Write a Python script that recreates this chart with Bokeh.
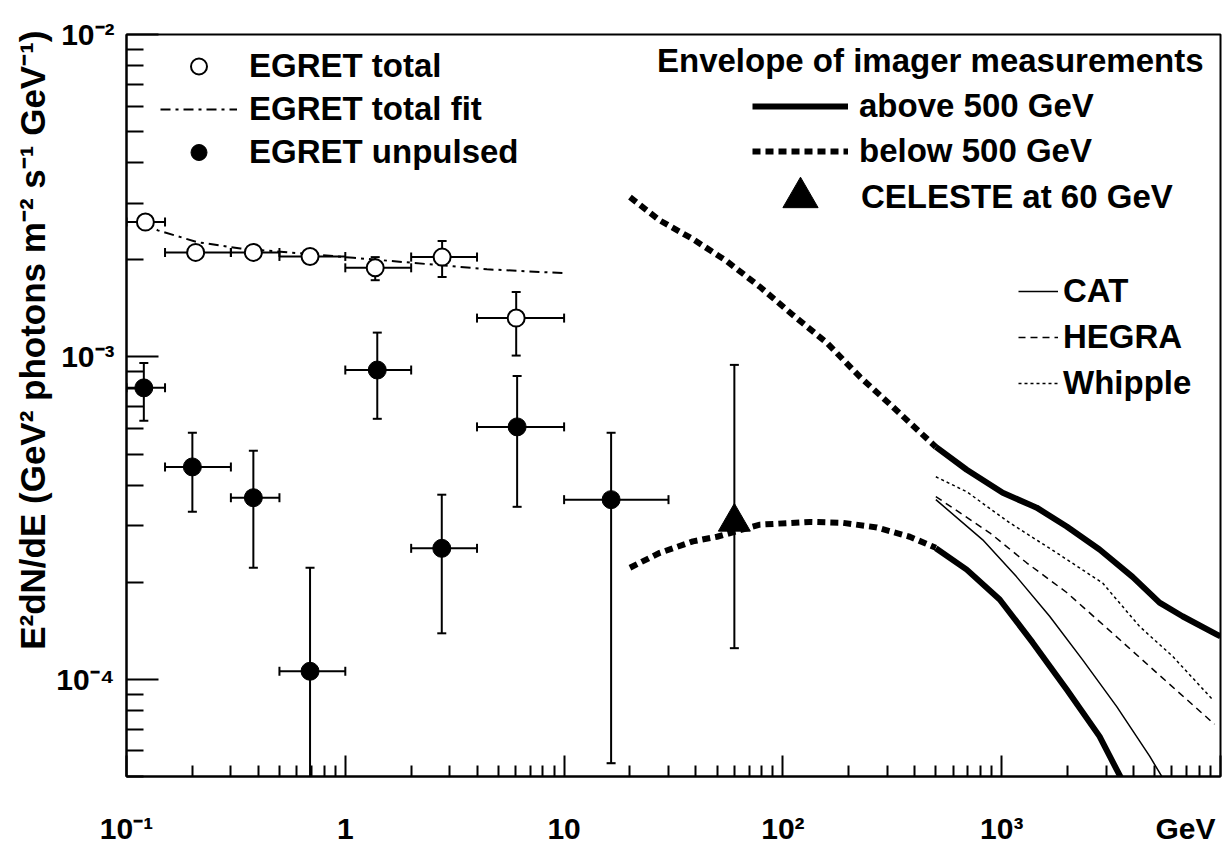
import math
from bokeh.plotting import figure
from bokeh.models import (Range1d, FixedTicker, CustomJSTickFormatter, Label,
                          Legend, LegendItem, LogAxis, Title)
from bokeh.embed import file_html
from bokeh.resources import INLINE

FONT = "Liberation Sans"

# ---------------- data ----------------
# EGRET total (open circles)
tot_e = [0.122, 0.207, 0.380, 0.69, 1.37, 2.77, 6.04]
tot_elo = [0.10, 0.15, 0.30, 0.50, 1.0, 2.0, 4.0]
tot_ehi = [0.15, 0.30, 0.50, 1.0, 2.0, 4.0, 10.0]
tot_f = [2.62e-3, 2.11e-3, 2.11e-3, 2.05e-3, 1.89e-3, 2.04e-3, 1.32e-3]
tot_flo = [2.52e-3, 2.03e-3, 2.03e-3, 1.97e-3, 1.73e-3, 1.77e-3, 1.01e-3]
tot_fhi = [2.72e-3, 2.19e-3, 2.19e-3, 2.13e-3, 2.04e-3, 2.29e-3, 1.59e-3]

# EGRET total fit
fit_e = [0.12, 0.139, 0.211, 0.332, 0.603, 1.09, 1.84, 3.11, 4.44, 10.0]
fit_f = [2.62e-3, 2.47e-3, 2.27e-3, 2.17e-3, 2.10e-3, 2.03e-3, 1.97e-3,
         1.91e-3, 1.87e-3, 1.82e-3]

# EGRET unpulsed (filled circles)
unp_e = [0.12, 0.20, 0.38, 0.69, 1.40, 2.76, 6.10, 16.4]
unp_elo = [0.10, 0.15, 0.30, 0.50, 1.0, 2.0, 4.0, 10.0]
unp_ehi = [0.15, 0.30, 0.50, 1.0, 2.0, 4.0, 10.0, 30.0]
unp_f = [8.02e-4, 4.56e-4, 3.66e-4, 1.06e-4, 9.11e-4, 2.55e-4, 6.07e-4, 3.61e-4]
unp_flo = [6.34e-4, 3.31e-4, 2.22e-4, 1.0e-5, 6.43e-4, 1.39e-4, 3.43e-4, 5.5e-5]
unp_fhi = [9.58e-4, 5.82e-4, 5.12e-4, 2.22e-4, 1.19e-3, 3.74e-4, 8.73e-4, 5.82e-4]

# CELESTE at 60 GeV
cel_e = [60.0]
cel_f = [3.08e-4]
cel_flo = [1.25e-4]
cel_fhi = [9.45e-4]

# Envelope of imager measurements, below 500 GeV (dotted)
below_e = [20, 27.4, 38.8, 55.5, 78.5, 111, 159, 225, 318, 500]
below_upper_f = [3.13e-3, 2.65e-3, 2.32e-3, 1.98e-3, 1.65e-3, 1.35e-3,
                 1.105e-3, 8.67e-4, 7.0e-4, 5.26e-4]
below_lo_e = [20, 27.4, 38.8, 50, 78.5, 133, 188, 269, 380, 500]
below_lower_f = [2.22e-4, 2.47e-4, 2.68e-4, 2.77e-4, 3.02e-4, 3.08e-4,
                 3.06e-4, 2.96e-4, 2.77e-4, 2.56e-4]

# Envelope above 500 GeV (solid)
above_up_e = [500, 692, 1011, 1445, 1982, 2800, 3963, 5265, 6700, 9590, 10000]
above_upper_f = [5.26e-4, 4.47e-4, 3.79e-4, 3.41e-4, 2.98e-4, 2.53e-4,
                 2.08e-4, 1.73e-4, 1.57e-4, 1.38e-4, 1.36e-4]
above_lo_e = [500, 692, 979, 1386, 1982, 2800, 3350, 3840]
above_lower_f = [2.55e-4, 2.19e-4, 1.77e-4, 1.30e-4, 9.31e-5, 6.66e-5,
                 5.26e-5, 4.41e-5]

# Individual experiments
cat_e = [500, 819, 1170, 1656, 2344, 3350, 4744, 6165]
cat_f = [3.61e-4, 2.71e-4, 2.08e-4, 1.57e-4, 1.15e-4, 8.25e-5, 5.78e-5, 4.3e-5]
hegra_e = [500, 881, 1300, 1982, 3459, 5100, 9390]
hegra_f = [3.69e-4, 2.85e-4, 2.30e-4, 1.86e-4, 1.33e-4, 1.05e-4, 7.26e-5]
whip_e = [500, 692, 1088, 1783, 2893, 4266, 6039, 9190]
whip_f = [4.25e-4, 3.82e-4, 3.06e-4, 2.47e-4, 1.99e-4, 1.46e-4, 1.18e-4, 8.67e-5]

# Axis ticks / labels
x_major = [0.1, 1, 10, 100, 1000, 10000]
x_minor = [k * 10.0 ** e for e in range(-1, 4) for k in range(2, 10)]
y_major = [1e-4, 1e-3, 1e-2]
y_minor = [k * 10.0 ** e for e in range(-5, -2) for k in range(2, 10)]
x_lab_vals = [0.1, 1, 10, 100, 1000, 6920]
x_lab_text = ["10\u207b\u00b9", "1", "10", "10\u00b2", "10\u00b3", "GeV"]
y_lab_vals = [1e-2, 1e-3, 1e-4]
y_lab_text = ["10\u207b\u00b2", "10\u207b\u00b3", "10\u207b\u2074"]
y_title = "E\u00b2dN/dE (GeV\u00b2 photons m\u207b\u00b2 s\u207b\u00b9 GeV\u207b\u00b9)"

# ---------------- figure ----------------
p = figure(width=1223, height=851, x_axis_type="log", y_axis_type="log",
           x_range=Range1d(0.1, 1e4), y_range=Range1d(5e-5, 1e-2),
           output_backend="svg", toolbar_location=None,
           min_border_left=126, min_border_right=3, min_border_top=34,
           min_border_bottom=75)
p.background_fill_color = "white"
p.border_fill_color = "white"
p.outline_line_color = "black"
p.outline_line_width = 2
p.xgrid.visible = False
p.ygrid.visible = False

LABEL_JS = """
for (let i = 0; i < vals.length; i++) {
  if (Math.abs(Math.log10(tick) - Math.log10(vals[i])) < 1e-6) return labs[i];
}
return '';
"""

p.xaxis.ticker = FixedTicker(ticks=x_major, minor_ticks=x_minor)
p.yaxis.ticker = FixedTicker(ticks=y_major, minor_ticks=y_minor)
for ax in (p.xaxis[0], p.yaxis[0]):
    ax.axis_line_width = 2
    ax.axis_line_color = "black"
    ax.major_tick_line_width = 2
    ax.minor_tick_line_width = 2
    ax.major_tick_line_color = "black"
    ax.minor_tick_line_color = "black"
    ax.major_tick_out = 0
    ax.minor_tick_out = 0
    ax.major_label_text_font = FONT
    ax.major_label_text_font_style = "bold"
    ax.major_label_text_font_size = "30px"
    ax.major_label_text_color = "black"
p.xaxis.major_tick_in = 21
p.xaxis.minor_tick_in = 11
p.yaxis.major_tick_in = 32
p.yaxis.minor_tick_in = 17

# main x axis: ticks only
p.xaxis.formatter = CustomJSTickFormatter(code="return ''")
p.xaxis.major_label_text_font_size = "0px"
p.xaxis.major_label_standoff = 0

# y axis labels
p.yaxis.formatter = CustomJSTickFormatter(args=dict(vals=y_lab_vals, labs=y_lab_text),
                                          code=LABEL_JS)
p.yaxis.major_label_standoff = 12

# second x axis carrying the tick labels and the unit
xlab_axis = LogAxis(ticker=FixedTicker(ticks=x_lab_vals, minor_ticks=[]),
                    formatter=CustomJSTickFormatter(args=dict(vals=x_lab_vals, labs=x_lab_text),
                                                    code=LABEL_JS),
                    axis_line_color=None, major_tick_line_color=None,
                    minor_tick_line_color=None, major_tick_in=0, major_tick_out=0,
                    minor_tick_in=0, minor_tick_out=0,
                    major_label_standoff=35, major_label_text_font=FONT,
                    major_label_text_font_style="bold",
                    major_label_text_font_size="30px",
                    major_label_text_color="black")
p.add_layout(xlab_axis, "below")

# y title
p.add_layout(Title(text=y_title, align="right", offset=-4, standoff=4,
                   text_font=FONT, text_font_style="bold",
                   text_font_size="35px", text_color="black"), "left")

K = "black"

# error bars (bars + caps)
def errbars(e, elo, ehi, f, flo, fhi):
    if elo is not None:
        p.segment(x0=elo, y0=f, x1=ehi, y1=f, line_width=2, color=K)
        p.scatter(x=list(elo) + list(ehi), y=list(f) + list(f), marker="dash",
                  angle=math.pi / 2, size=9, line_width=2, color=K)
    p.segment(x0=e, y0=flo, x1=e, y1=fhi, line_width=2, color=K)
    p.scatter(x=list(e) + list(e), y=list(flo) + list(fhi), marker="dash",
              size=9, line_width=2, color=K)

errbars(tot_e, tot_elo, tot_ehi, tot_f, tot_flo, tot_fhi)
errbars(unp_e, unp_elo, unp_ehi, unp_f, unp_flo, unp_fhi)
errbars(cel_e, None, None, cel_f, cel_flo, cel_fhi)

# curves
fit_r = p.line(fit_e, fit_f, line_width=2, line_dash="10 5 3 5", color=K)
dot_up = p.line(below_e, below_upper_f, line_width=6, line_dash="8 5", color=K)
dot_lo = p.line(below_lo_e, below_lower_f, line_width=6, line_dash="8 5", color=K)
sol_up = p.line(above_up_e, above_upper_f, line_width=6, color=K, line_join="round")
sol_lo = p.line(above_lo_e, above_lower_f, line_width=6, color=K, line_join="round")
cat_r = p.line(cat_e, cat_f, line_width=1.5, color=K)
hegra_r = p.line(hegra_e, hegra_f, line_width=1.5, line_dash="7 5", color=K)
whip_r = p.line(whip_e, whip_f, line_width=1.5, line_dash="3 3", color=K)

# markers
tot_r = p.scatter(tot_e, tot_f, marker="circle", size=17, fill_color="white",
                  line_color=K, line_width=2)
unp_r = p.scatter(unp_e, unp_f, marker="circle", size=18, color=K)
cel_r = p.scatter(cel_e, cel_f, marker="triangle", size=32, color=K)

# legends
def legend(items, loc, gw, gh, standoff, spacing):
    lg = Legend(items=items, location=loc, orientation="vertical",
                glyph_width=gw, glyph_height=gh, label_height=gh,
                label_standoff=standoff, spacing=spacing, padding=0, margin=0,
                border_line_color=None, background_fill_alpha=0,
                label_text_font=FONT, label_text_font_style="bold",
                label_text_font_size="33px", label_text_color=K)
    p.add_layout(lg, "center")

legend([LegendItem(label="EGRET total", renderers=[tot_r]),
        LegendItem(label="EGRET total fit", renderers=[fit_r]),
        LegendItem(label="EGRET unpulsed", renderers=[unp_r])],
       (34, 604), 77, 40, 12, 3)
legend([LegendItem(label="above 500 GeV", renderers=[sol_up]),
        LegendItem(label="below 500 GeV", renderers=[dot_up])],
       (626, 605), 96, 40, 11, 5)
legend([LegendItem(label="CELESTE at 60 GeV", renderers=[cel_r])],
       (626, 535), 96, 88, 13, 0)
legend([LegendItem(label="CAT", renderers=[cat_r]),
        LegendItem(label="HEGRA", renderers=[hegra_r]),
        LegendItem(label="Whipple", renderers=[whip_r])],
       (892, 373), 40, 40, 5, 6)

p.add_layout(Label(x=1e4, y=1e-2, x_offset=-17, y_offset=-26,
                   text="Envelope of imager measurements",
                   text_font=FONT, text_font_style="bold", text_font_size="33px",
                   text_align="right", text_baseline="middle", text_color=K))

open("out.html", "w").write(file_html(p, INLINE))
